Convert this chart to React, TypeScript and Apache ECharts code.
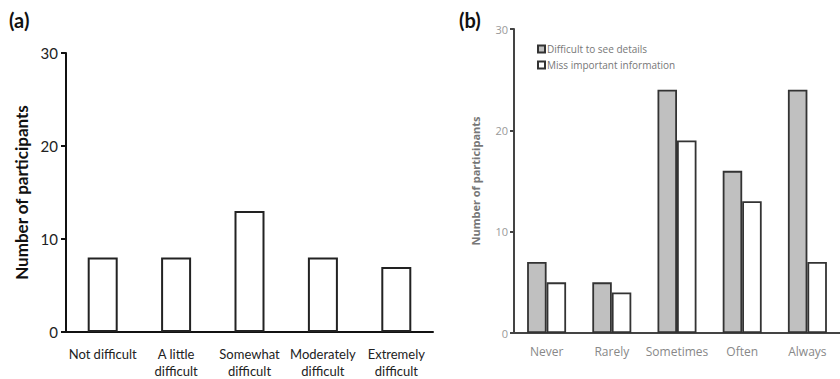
import React, { useEffect, useRef } from "react";
import * as echarts from "echarts";

const catsA = ["Not difficult", "A little\ndifficult", "Somewhat\ndifficult", "Moderately\ndifficult", "Extremely\ndifficult"];
const valsA = [8, 8, 13, 8, 7];

const catsB = ["Never", "Rarely", "Sometimes", "Often", "Always"];
const seeDetails = [7, 5, 24, 16, 24];
const missInfo = [5, 4, 19, 13, 7];

const yTicks = { min: 0, max: 30, interval: 10 };

export default function App() {
  const ref = useRef<HTMLDivElement>(null);
  useEffect(() => {
    if (!ref.current) return;
    const chart = echarts.init(ref.current, undefined, { renderer: "svg" });
    const fontA = "Lato, 'Open Sans', sans-serif";
    const fontB = "'Open Sans', Lato, sans-serif";
    chart.setOption({
      animation: false,
      backgroundColor: "#ffffff",
      graphic: [
        { type: "text", left: 9, top: 10, style: { text: "(a)", font: "bold 20px " + fontA, fill: "#111" } },
        { type: "text", left: 459, top: 10, style: { text: "(b)", font: "bold 20px " + fontA, fill: "#111" } },
      ],
      legend: {
        left: 532,
        top: 39,
        orient: "vertical",
        icon: "rect",
        itemWidth: 7,
        itemHeight: 7,
        itemGap: 6,
        textStyle: { fontSize: 10, color: "#777", fontFamily: fontB, padding: [0, 0, 0, -3] },
        data: ["Difficult to see details", "Miss important information"],
      },
      grid: [
        { left: 66, top: 53, width: 367, height: 280 },
        { left: 514, top: 29, width: 340, height: 304 },
      ],
      xAxis: [
        {
          type: "category",
          gridIndex: 0,
          data: catsA,
          axisLine: { lineStyle: { color: "#111", width: 2 } },
          axisTick: { length: 5, lineStyle: { color: "#111", width: 2 } },
          axisLabel: { color: "#222", fontSize: 13, lineHeight: 17, margin: 13, fontFamily: fontA, interval: 0 },
        },
        {
          type: "category",
          gridIndex: 1,
          data: catsB,
          axisLine: { lineStyle: { color: "#444", width: 2 } },
          axisTick: { length: 4, lineStyle: { color: "#444", width: 2 } },
          axisLabel: { color: "#888", fontSize: 12, margin: 12, fontFamily: fontB, interval: 0 },
        },
      ],
      yAxis: [
        {
          type: "value",
          gridIndex: 0,
          ...yTicks,
          name: "Number of participants",
          nameLocation: "middle",
          nameGap: 36,
          nameTextStyle: { fontSize: 17, fontWeight: "bold", color: "#111", fontFamily: fontA },
          axisLine: { show: true, lineStyle: { color: "#111", width: 2 } },
          axisTick: { show: true, length: 5, lineStyle: { color: "#111", width: 2 } },
          axisLabel: { color: "#222", fontSize: 15, margin: 8, fontFamily: fontA },
          splitLine: { show: false },
        },
        {
          type: "value",
          gridIndex: 1,
          ...yTicks,
          name: "Number of participants",
          nameLocation: "middle",
          nameGap: 33,
          nameTextStyle: { fontSize: 11, fontWeight: "bold", color: "#777", fontFamily: fontB },
          axisLine: { show: true, lineStyle: { color: "#444", width: 2 } },
          axisTick: { show: true, length: 4, lineStyle: { color: "#444", width: 2 } },
          axisLabel: { color: "#999", fontSize: 11, margin: 6, fontFamily: fontB },
          splitLine: { show: false },
        },
      ],
      series: [
        {
          type: "bar",
          xAxisIndex: 0,
          yAxisIndex: 0,
          data: valsA,
          barWidth: 30,
          itemStyle: { color: "#ffffff", borderColor: "#222", borderWidth: 2 },
        },
        {
          name: "Difficult to see details",
          type: "bar",
          xAxisIndex: 1,
          yAxisIndex: 1,
          data: seeDetails,
          barWidth: 19.5,
          barGap: "0%",
          itemStyle: { color: "#c0c0c0", borderColor: "#333", borderWidth: 1.8 },
        },
        {
          name: "Miss important information",
          type: "bar",
          xAxisIndex: 1,
          yAxisIndex: 1,
          data: missInfo,
          barWidth: 19.5,
          barGap: "0%",
          itemStyle: { color: "#ffffff", borderColor: "#333", borderWidth: 1.8 },
        },
      ],
    });
    return () => chart.dispose();
  }, []);
  return <div ref={ref} style={{ position: "fixed", left: 0, top: 0, width: 840, height: 379 }} />;
}
